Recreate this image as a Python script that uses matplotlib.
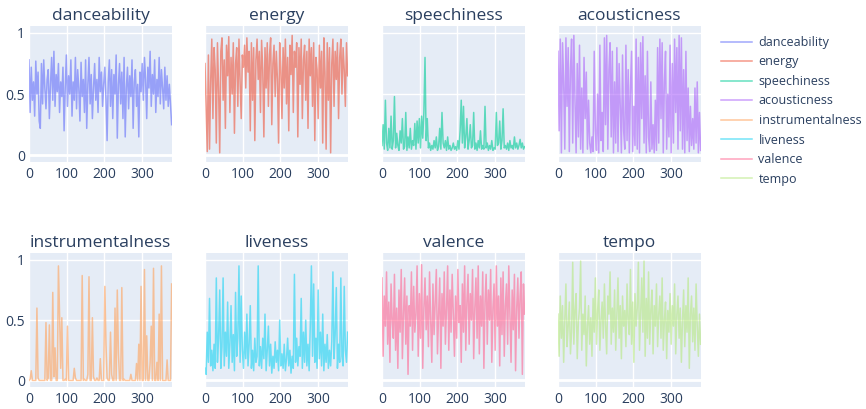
import numpy as np
import matplotlib
matplotlib.use("Agg")
import matplotlib.pyplot as plt

# features, sampled every 3rd track (track index 0..378)
features = ["danceability", "energy", "speechiness", "acousticness",
            "instrumentalness", "liveness", "valence", "tempo"]
step = 3

danceability = [
    0.78, 0.35, 0.72, 0.45, 0.60, 0.32, 0.77, 0.50, 0.68, 0.28,
    0.22, 0.75, 0.42, 0.78, 0.55, 0.38, 0.62, 0.70, 0.30, 0.58,
    0.80, 0.45, 0.85, 0.40, 0.66, 0.52, 0.75, 0.35, 0.60, 0.48,
    0.72, 0.20, 0.55, 0.82, 0.40, 0.65, 0.50, 0.78, 0.32, 0.60,
    0.45, 0.80, 0.38, 0.70, 0.55, 0.28, 0.76, 0.48, 0.62, 0.35,
    0.78, 0.22, 0.58, 0.80, 0.42, 0.66, 0.30, 0.55, 0.75, 0.45,
    0.62, 0.35, 0.80, 0.52, 0.68, 0.40, 0.58, 0.72, 0.46, 0.12,
    0.60, 0.78, 0.40, 0.70, 0.30, 0.66, 0.50, 0.82, 0.14, 0.58,
    0.75, 0.42, 0.68, 0.30, 0.80, 0.15, 0.55, 0.72, 0.38, 0.65,
    0.48, 0.78, 0.22, 0.60, 0.70, 0.40, 0.58, 0.15, 0.68, 0.52,
    0.75, 0.45, 0.80, 0.62, 0.30, 0.72, 0.55, 0.85, 0.40, 0.66,
    0.50, 0.78, 0.35, 0.62, 0.48, 0.80, 0.42, 0.70, 0.55, 0.38,
    0.72, 0.45, 0.65, 0.40, 0.58, 0.42, 0.25]

energy = [
    0.75, 0.40, 0.03, 0.82, 0.05, 0.60, 0.95, 0.30, 0.88, 0.70,
    0.10, 0.92, 0.55, 0.02, 0.85, 0.96, 0.45, 0.78, 0.22, 0.90,
    0.65, 0.97, 0.35, 0.80, 0.50, 0.92, 0.18, 0.75, 0.88, 0.40,
    0.95, 0.60, 0.30, 0.82, 0.72, 0.90, 0.55, 0.96, 0.68, 0.85,
    0.20, 0.92, 0.45, 0.88, 0.12, 0.78, 0.95, 0.62, 0.85, 0.35,
    0.94, 0.70, 0.15, 0.88, 0.55, 0.92, 0.40, 0.82, 0.96, 0.25,
    0.75, 0.90, 0.48, 0.85, 0.62, 0.10, 0.92, 0.70, 0.30, 0.88,
    0.55, 0.95, 0.42, 0.80, 0.20, 0.90, 0.66, 0.98, 0.35, 0.85,
    0.72, 0.92, 0.15, 0.88, 0.58, 0.95, 0.30, 0.78, 0.90, 0.45,
    0.85, 0.22, 0.95, 0.65, 0.88, 0.40, 0.92, 0.12, 0.80, 0.70,
    0.30, 0.90, 0.55, 0.85, 0.10, 0.96, 0.68, 0.05, 0.92, 0.45,
    0.88, 0.02, 0.75, 0.95, 0.40, 0.85, 0.62, 0.92, 0.30, 0.80,
    0.95, 0.50, 0.88, 0.70, 0.40, 0.92, 0.65]

speechiness = [
    0.08, 0.25, 0.05, 0.45, 0.10, 0.04, 0.22, 0.06, 0.32, 0.05,
    0.12, 0.48, 0.06, 0.18, 0.08, 0.04, 0.20, 0.10, 0.30, 0.05,
    0.07, 0.35, 0.04, 0.15, 0.06, 0.22, 0.05, 0.12, 0.08, 0.26,
    0.05, 0.28, 0.10, 0.30, 0.06, 0.32, 0.14, 0.35, 0.80, 0.12,
    0.30, 0.06, 0.10, 0.04, 0.08, 0.05, 0.12, 0.06, 0.15, 0.04,
    0.07, 0.22, 0.05, 0.35, 0.10, 0.06, 0.12, 0.04, 0.15, 0.05,
    0.08, 0.04, 0.06, 0.10, 0.05, 0.07, 0.04, 0.12, 0.05, 0.20,
    0.45, 0.10, 0.40, 0.06, 0.15, 0.30, 0.05, 0.12, 0.25, 0.06,
    0.08, 0.35, 0.05, 0.10, 0.04, 0.12, 0.06, 0.20, 0.05, 0.08,
    0.05, 0.40, 0.06, 0.10, 0.04, 0.08, 0.05, 0.12, 0.04, 0.06,
    0.05, 0.35, 0.08, 0.10, 0.28, 0.05, 0.12, 0.38, 0.06, 0.08,
    0.05, 0.10, 0.04, 0.12, 0.06, 0.08, 0.05, 0.15, 0.06, 0.10,
    0.05, 0.08, 0.13, 0.06, 0.10, 0.05, 0.07]

acousticness = [
    0.85, 0.20, 0.95, 0.02, 0.92, 0.60, 0.05, 0.96, 0.40, 0.88,
    0.03, 0.70, 0.95, 0.10, 0.98, 0.45, 0.02, 0.75, 0.15, 0.90,
    0.05, 0.55, 0.02, 0.80, 0.30, 0.68, 0.05, 0.45, 0.10, 0.02,
    0.15, 0.03, 0.85, 0.20, 0.04, 0.50, 0.02, 0.90, 0.12, 0.35,
    0.03, 0.96, 0.25, 0.98, 0.05, 0.70, 0.92, 0.15, 0.85, 0.02,
    0.60, 0.10, 0.88, 0.03, 0.75, 0.40, 0.02, 0.82, 0.20, 0.05,
    0.90, 0.12, 0.70, 0.02, 0.55, 0.85, 0.03, 0.40, 0.08, 0.95,
    0.05, 0.80, 0.02, 0.92, 0.30, 0.97, 0.10, 0.65, 0.02, 0.85,
    0.15, 0.03, 0.60, 0.05, 0.25, 0.02, 0.45, 0.04, 0.88, 0.10,
    0.95, 0.30, 0.92, 0.02, 0.60, 0.85, 0.05, 0.50, 0.15, 0.90,
    0.02, 0.75, 0.10, 0.95, 0.35, 0.88, 0.05, 0.98, 0.20, 0.96,
    0.05, 0.70, 0.02, 0.85, 0.12, 0.55, 0.03, 0.40, 0.08, 0.30,
    0.05, 0.55, 0.10, 0.60, 0.02, 0.35, 0.04]

instrumentalness = [
    0.00, 0.01, 0.08, 0.00, 0.00, 0.00, 0.00, 0.60, 0.02, 0.00,
    0.00, 0.00, 0.00, 0.00, 0.00, 0.48, 0.00, 0.02, 0.46, 0.00,
    0.00, 0.73, 0.03, 0.27, 0.00, 0.00, 0.95, 0.55, 0.10, 0.52,
    0.00, 0.00, 0.01, 0.00, 0.45, 0.00, 0.00, 0.00, 0.00, 0.00,
    0.10, 0.02, 0.00, 0.00, 0.00, 0.00, 0.00, 0.87, 0.00, 0.01,
    0.00, 0.00, 0.05, 0.86, 0.00, 0.00, 0.52, 0.03, 0.00, 0.00,
    0.02, 0.00, 0.00, 0.18, 0.00, 0.00, 0.00, 0.78, 0.30, 0.02,
    0.00, 0.00, 0.40, 0.05, 0.00, 0.00, 0.60, 0.00, 0.75, 0.23,
    0.00, 0.00, 0.77, 0.00, 0.01, 0.00, 0.00, 0.00, 0.00, 0.00,
    0.05, 0.00, 0.00, 0.00, 0.00, 0.14, 0.00, 0.30, 0.00, 0.78,
    0.00, 0.00, 0.92, 0.00, 0.37, 0.00, 0.00, 0.15, 0.45, 0.00,
    0.93, 0.00, 0.00, 0.15, 0.00, 0.55, 0.00, 0.95, 0.00, 0.00,
    0.00, 0.00, 0.17, 0.00, 0.00, 0.00, 0.80]

liveness = [
    0.10, 0.05, 0.40, 0.15, 0.68, 0.12, 0.25, 0.08, 0.30, 0.10,
    0.85, 0.15, 0.35, 0.75, 0.10, 0.28, 0.85, 0.12, 0.40, 0.20,
    0.65, 0.10, 0.30, 0.62, 0.15, 0.38, 0.08, 0.73, 0.20, 0.35,
    0.95, 0.15, 0.70, 0.25, 0.10, 0.40, 0.18, 0.55, 0.12, 0.30,
    0.62, 0.10, 0.25, 0.08, 0.35, 0.15, 0.20, 0.95, 0.12, 0.28,
    0.10, 0.35, 0.18, 0.55, 0.08, 0.25, 0.45, 0.12, 0.30, 0.06,
    0.20, 0.10, 0.32, 0.15, 0.25, 0.08, 0.50, 0.12, 0.22, 0.10,
    0.30, 0.08, 0.18, 0.35, 0.12, 0.25, 0.06, 0.20, 0.10, 0.88,
    0.15, 0.35, 0.12, 0.28, 0.20, 0.68, 0.10, 0.40, 0.15, 0.50,
    0.12, 0.30, 0.08, 0.45, 0.95, 0.20, 0.80, 0.15, 0.35, 0.10,
    0.75, 0.18, 0.40, 0.12, 0.55, 0.08, 0.30, 0.15, 0.38, 0.10,
    0.25, 0.12, 0.32, 0.90, 0.18, 0.38, 0.77, 0.10, 0.30, 0.15,
    0.85, 0.20, 0.12, 0.78, 0.25, 0.15, 0.40]

valence = [
    0.85, 0.20, 0.70, 0.45, 0.90, 0.30, 0.65, 0.15, 0.80, 0.50,
    0.35, 0.88, 0.25, 0.60, 0.10, 0.75, 0.40, 0.92, 0.18, 0.55,
    0.85, 0.30, 0.70, 0.05, 0.62, 0.45, 0.90, 0.25, 0.78, 0.40,
    0.55, 0.95, 0.20, 0.72, 0.35, 0.96, 0.10, 0.60, 0.85, 0.42,
    0.70, 0.28, 0.90, 0.50, 0.15, 0.80, 0.38, 0.65, 0.92, 0.22,
    0.55, 0.85, 0.10, 0.72, 0.45, 0.90, 0.30, 0.60, 0.95, 0.25,
    0.75, 0.40, 0.88, 0.55, 0.20, 0.70, 0.35, 0.92, 0.48, 0.62,
    0.15, 0.80, 0.40, 0.95, 0.25, 0.65, 0.88, 0.30, 0.72, 0.50,
    0.92, 0.18, 0.60, 0.85, 0.35, 0.95, 0.22, 0.70, 0.45, 0.90,
    0.10, 0.65, 0.88, 0.30, 0.75, 0.50, 0.92, 0.15, 0.60, 0.80,
    0.25, 0.95, 0.45, 0.70, 0.12, 0.85, 0.38, 0.90, 0.20, 0.62,
    0.80, 0.30, 0.95, 0.55, 0.15, 0.75, 0.42, 0.88, 0.08, 0.60,
    0.85, 0.35, 0.70, 0.90, 0.05, 0.80, 0.55]

tempo = [
    0.55, 0.20, 0.70, 0.35, 0.62, 0.15, 0.50, 0.80, 0.28, 0.45,
    0.65, 0.22, 0.40, 0.98, 0.30, 0.58, 0.72, 0.18, 0.48, 0.60,
    0.99, 0.25, 0.55, 0.38, 0.70, 0.12, 0.45, 0.62, 0.30, 0.52,
    0.20, 0.68, 0.40, 0.85, 0.30, 0.58, 0.75, 0.25, 0.50, 0.65,
    0.35, 0.80, 0.45, 0.22, 0.70, 0.55, 0.90, 0.30, 0.60, 0.40,
    0.75, 0.25, 0.55, 0.85, 0.35, 0.62, 0.18, 0.70, 0.45, 0.58,
    0.28, 0.80, 0.50, 0.38, 0.92, 0.30, 0.65, 0.15, 0.72, 0.45,
    0.60, 0.98, 0.25, 0.55, 0.85, 0.40, 0.99, 0.20, 0.68, 0.35,
    0.90, 0.30, 0.58, 0.75, 0.22, 0.62, 0.45, 0.80, 0.28, 0.55,
    0.70, 0.35, 0.85, 0.25, 0.50, 0.65, 0.18, 0.58, 0.40, 0.72,
    0.30, 0.62, 0.45, 0.80, 0.22, 0.55, 0.70, 0.35, 0.60, 0.15,
    0.50, 0.75, 0.28, 0.62, 0.40, 0.85, 0.10, 0.55, 0.70, 0.32,
    0.60, 0.25, 0.80, 0.45, 0.20, 0.55, 0.30]

series = [danceability, energy, speechiness, acousticness,
          instrumentalness, liveness, valence, tempo]
colors = ["#636EFA", "#EF553B", "#00CC96", "#AB63FA",
          "#FFA15A", "#19D3F3", "#FF6692", "#B6E880"]

txt = "#2a3f5f"
plt.rcParams["font.family"] = ["Open Sans", "DejaVu Sans"]

W, H = 866, 409
fig = plt.figure(figsize=(W / 100, H / 100), dpi=100)

lefts = [29, 205, 382, 558]
tops = [26, 253]
heights = [136, 134]
pw = 143

handles = []
for i, (name, vals, col) in enumerate(zip(features, series, colors)):
    r, c = divmod(i, 4)
    ph = heights[r]
    ax = fig.add_axes([lefts[c] / W, 1 - (tops[r] + ph) / H, pw / W, ph / H])
    ax.set_facecolor("#E5ECF6")
    for s in ax.spines.values():
        s.set_visible(False)
    x = np.arange(len(vals)) * step
    ln, = ax.plot(x, vals, color=col, lw=1.1, alpha=0.6, zorder=3)
    handles.append(ln)
    ax.axhline(0, color="white", lw=2, zorder=2)
    ax.set_xlim(0, 379)
    ax.set_ylim(-0.055, 1.057)
    ax.set_xticks([0, 100, 200, 300])
    ax.set_yticks([0, 0.5, 1])
    ax.set_yticklabels(["0", "0.5", "1"])
    ax.grid(True, color="white", lw=1.0, zorder=1)
    ax.set_axisbelow(True)
    ax.tick_params(length=0, labelsize=10, colors=txt)
    ax.tick_params(axis="x", pad=3.5)
    ax.tick_params(axis="y", pad=3)
    if c != 0:
        ax.tick_params(axis="y", labelleft=False)
    ax.set_title(name, fontsize=12.5, color=txt, pad=4)

fig.legend(handles, features, loc="upper left",
           bbox_to_anchor=(716 / W, 1 - 31 / H), frameon=False,
           fontsize=9, labelcolor=txt, handlelength=2.5,
           handletextpad=0.5, labelspacing=0.52, borderaxespad=0)

plt.savefig("out.png", dpi=100)
